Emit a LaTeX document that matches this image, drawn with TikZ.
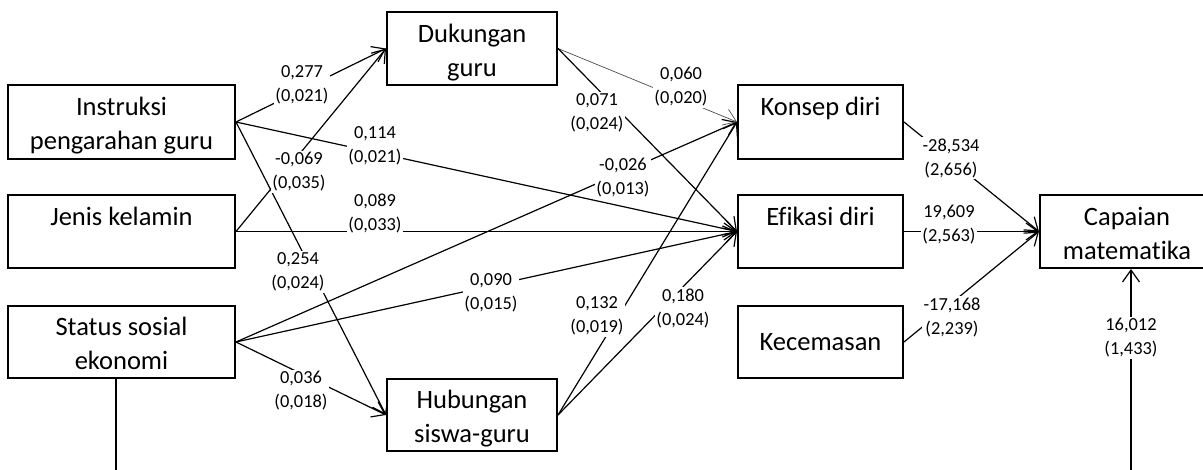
\documentclass[tikz,border=0pt]{standalone}
\usepackage{fontspec}
\setmainfont[Ligatures=NoCommon]{Carlito}
\usetikzlibrary{arrows.meta}
\newcommand{\boxtxt}[1]{\raisebox{-4pt}[\height][\depth]{\begin{tabular}{@{}c@{}}#1\end{tabular}}}
\begin{document}
\begin{tikzpicture}[x=1pt,y=-1pt,
  box/.style={draw, line width=2pt, inner sep=0pt, align=center, font=\fontsize{26.5}{34}\selectfont},
  lab/.style={fill=white, inner sep=1.5pt, align=center, font=\fontsize{18.4}{24}\selectfont},
  edge/.style={line width=1.2pt, -{Straight Barb[length=12pt,width=17pt,line width=1.2pt]}},
  thinedge/.style={line width=0.7pt, draw=black!70, -{Straight Barb[length=12pt,width=17pt,line width=0.7pt]}}
]
\useasboundingbox (0,0) rectangle (1203,470);
% boxes
\node[box, minimum width=227pt, minimum height=74pt] (ins) at (121.5,122) {\boxtxt{Instruksi\\pengarahan guru}};
\node[box, minimum width=227pt, minimum height=73pt] (jen) at (121.5,231.5) {\boxtxt{Jenis kelamin\\\strut}};
\node[box, minimum width=227pt, minimum height=72pt] (sta) at (121.5,342) {\boxtxt{Status sosial\\ekonomi}};
\node[box, minimum width=170pt, minimum height=73pt] (duk) at (472,48.5) {\boxtxt{Dukungan\\guru}};
\node[box, minimum width=170pt, minimum height=72pt] (hub) at (472,415) {\boxtxt{Hubungan\\siswa-guru}};
\node[box, minimum width=165pt, minimum height=74pt] (kon) at (820.5,122) {\boxtxt{Konsep diri\\\strut}};
\node[box, minimum width=165pt, minimum height=73pt] (efi) at (820.5,231.5) {\boxtxt{Efikasi diri\\\strut}};
\node[box, minimum width=165pt, minimum height=72pt] (kec) at (820.5,342) {Kecemasan};
\node[box, minimum width=174pt, minimum height=73pt] (cap) at (1127,231.5) {\boxtxt{Capaian\\matematika}};
\coordinate (s1) at (116,470);
\coordinate (c1) at (1131,470);
% connectors
\draw[edge] (ins.east) -- (duk.west);
\draw[edge] (ins.east) -- (efi.west);
\draw[edge] (ins.east) -- (hub.west);
\draw[edge] (jen.east) -- (duk.west);
\draw[edge] (jen.east) -- (efi.west);
\draw[edge] (sta.east) -- (kon.west);
\draw[edge] (sta.east) -- (efi.west);
\draw[edge] (sta.east) -- (hub.west);
\draw[thinedge] (duk.east) -- (kon.west);
\draw[edge] (duk.east) -- (efi.west);
\draw[edge] (hub.east) -- (kon.west);
\draw[edge] (hub.east) -- (efi.west);
\draw[edge] (kon.east) -- (cap.west);
\draw[edge] (efi.east) -- (cap.west);
\draw[edge] (kec.east) -- (cap.west);
\draw[edge] (c1) -- (c1 |- cap.south);
\draw[line width=1.2pt] (s1 |- sta.south) -- (s1);
% labels
\node[lab] (l1) at (302,85) {0,277\\(0,021)};
\node[lab] (l2) at (375,146) {0,114\\(0,021)};
\node[lab] (l3) at (299,172) {-0,069\\(0,035)};
\node[lab] (l4) at (375,213) {0,089\\(0,033)};
\node[lab] (l5) at (298,272) {0,254\\(0,024)};
\node[lab] (l6) at (301,391) {0,036\\(0,018)};
\node[lab] (l7) at (491,293) {0,090\\(0,015)};
\node[lab] (l8) at (597,316) {0,132\\(0,019)};
\node[lab] (l9) at (683,308) {0,180\\(0,024)};
\node[lab] (l10) at (597,113) {0,071\\(0,024)};
\node[lab] (l11) at (681,87) {0,060\\(0,020)};
\node[lab] (l12) at (623,178) {-0,026\\(0,013)};
\node[lab] (l13) at (951,158) {-28,534\\(2,656)};
\node[lab] (l14) at (949,225) {19,609\\(2,563)};
\node[lab] (l15) at (952,317) {-17,168\\(2,239)};
\node[lab] (l16) at (1131,338) {16,012\\(1,433)};
\end{tikzpicture}
\end{document}
